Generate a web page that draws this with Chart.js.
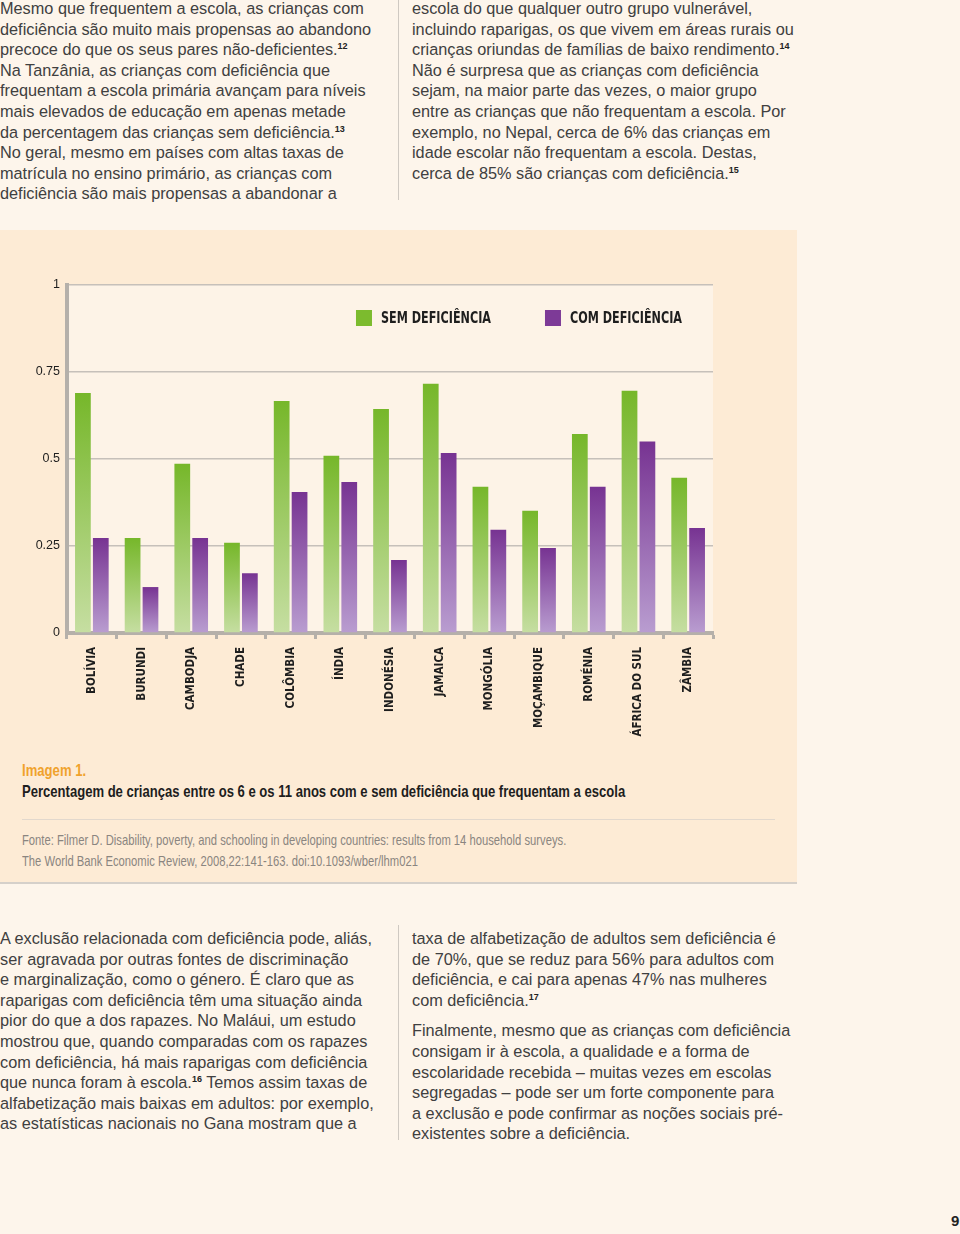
<!DOCTYPE html>
<html lang="pt">
<head>
<meta charset="utf-8">
<script src="https://cdn.jsdelivr.net/npm/chart.js@4.4.1/dist/chart.umd.min.js"></script>
<style>
  body { margin: 0; width: 960px; height: 1234px; background: #fdf5eb; position: relative; overflow: hidden;
         font-family: "Liberation Sans", Arial, Helvetica, sans-serif; color: #404040; }
  .col { position: absolute; font-size: 16.3px; line-height: 20.6px; white-space: nowrap; }
  .col sup { font-size: 9px; font-weight: bold; vertical-align: 6px; line-height: 0; color: #222; }
  .div { position: absolute; left: 398px; width: 1px; background: #cfc9c2; }
  #painel { position: absolute; left: 0; top: 230px; width: 797px; height: 652px; background: #fdebd5;
            border-bottom: 2px solid #d5d0ca; }
  #grafico { position: absolute; left: 0; top: 0; width: 797px; height: 530px; }
  .cond { white-space: nowrap; transform-origin: 0 50%; }
  #imagem { position: absolute; left: 22px; top: 531px; font-size: 17px; font-weight: bold; color: #f0a22c; }
  #titulo { position: absolute; left: 22px; top: 552px; font-size: 17px; font-weight: bold; color: #1e1e1e; }
  #regra { position: absolute; left: 22px; top: 589px; width: 753px; height: 1px; background: #e2d8cd; }
  #fonte { position: absolute; left: 22px; top: 599px; font-size: 15px; line-height: 21px; color: #8a8580; }
  #pagina { position: absolute; left: 951px; top: 1212px; font-size: 15px; font-weight: bold; color: #222; }
</style>
</head>
<body>
<div class="col" style="left:0; top:-2px;">
Mesmo que frequentem a escola, as crianças com<br>
deficiência são muito mais propensas ao abandono<br>
precoce do que os seus pares não-deficientes.<sup>12</sup><br>
Na Tanzânia, as crianças com deficiência que<br>
frequentam a escola primária avançam para níveis<br>
mais elevados de educação em apenas metade<br>
da percentagem das crianças sem deficiência.<sup>13</sup><br>
No geral, mesmo em países com altas taxas de<br>
matrícula no ensino primário, as crianças com<br>
deficiência são mais propensas a abandonar a
</div>
<div class="div" style="top:0; height:200px;"></div>
<div class="col" style="left:412px; top:-2px;">
escola do que qualquer outro grupo vulnerável,<br>
incluindo raparigas, os que vivem em áreas rurais ou<br>
crianças oriundas de famílias de baixo rendimento.<sup>14</sup><br>
Não é surpresa que as crianças com deficiência<br>
sejam, na maior parte das vezes, o maior grupo<br>
entre as crianças que não frequentam a escola. Por<br>
exemplo, no Nepal, cerca de 6% das crianças em<br>
idade escolar não frequentam a escola. Destas,<br>
cerca de 85% são crianças com deficiência.<sup>15</sup>
</div>

<div id="painel">
  <div id="grafico"><canvas id="myChart" width="797" height="530"></canvas></div>
  <div id="imagem" class="cond" data-w="64">Imagem 1.</div>
  <div id="titulo" class="cond" data-w="603">Percentagem de crianças entre os 6 e os 11 anos com e sem deficiência que frequentam a escola</div>
  <div id="regra"></div>
  <div id="fonte" class="cond" data-w="544">Fonte: Filmer D. Disability, poverty, and schooling in developing countries: results from 14 household surveys.<br>
  The World Bank Economic Review, 2008,22:141-163. doi:10.1093/wber/lhm021</div>
</div>

<div class="col" style="left:0; top:928px;">
A exclusão relacionada com deficiência pode, aliás,<br>
ser agravada por outras fontes de discriminação<br>
e marginalização, como o género. É claro que as<br>
raparigas com deficiência têm uma situação ainda<br>
pior do que a dos rapazes. No Maláui, um estudo<br>
mostrou que, quando comparadas com os rapazes<br>
com deficiência, há mais raparigas com deficiência<br>
que nunca foram à escola.<sup>16</sup> Temos assim taxas de<br>
alfabetização mais baixas em adultos: por exemplo,<br>
as estatísticas nacionais no Gana mostram que a
</div>
<div class="div" style="top:925px; height:215px;"></div>
<div class="col" style="left:412px; top:928px;">
taxa de alfabetização de adultos sem deficiência é<br>
de 70%, que se reduz para 56% para adultos com<br>
deficiência, e cai para apenas 47% nas mulheres<br>
com deficiência.<sup>17</sup>
<div style="height:10px;"></div>
Finalmente, mesmo que as crianças com deficiência<br>
consigam ir à escola, a qualidade e a forma de<br>
escolaridade recebida – muitas vezes em escolas<br>
segregadas – pode ser um forte componente para<br>
a exclusão e pode confirmar as noções sociais pré-<br>
existentes sobre a deficiência.
</div>
<div id="pagina" class="cond" data-w="8">9</div>

<script>
const paises = ["BOLÍVIA", "BURUNDI", "CAMBODJA", "CHADE", "COLÔMBIA", "ÍNDIA", "INDONÉSIA",
  "JAMAICA", "MONGÓLIA", "MOÇAMBIQUE", "ROMÉNIA", "ÁFRICA DO SUL", "ZÂMBIA"];
const semDeficiencia = [0.69, 0.273, 0.486, 0.259, 0.667, 0.509, 0.644, 0.716, 0.42, 0.351, 0.572, 0.696, 0.446];
const comDeficiencia = [0.273, 0.132, 0.273, 0.172, 0.405, 0.434, 0.21, 0.517, 0.297, 0.244, 0.42, 0.55, 0.302];
const ticksY = [0, 0.25, 0.5, 0.75, 1];

const fonteCond = '"DejaVu Sans Condensed", "Liberation Sans", sans-serif';
const corEixo = "#b5b0aa";

// textos condensados: estreita cada bloco até à largura do original
document.querySelectorAll("[data-w]").forEach((el) => {
  const escala = Number(el.dataset.w) / el.offsetWidth;
  el.style.transform = `scaleX(${escala})`;
});

// degradê por barra: escuro no topo, claro na base
function degrade(topo, base) {
  return (context) => {
    const chart = context.chart;
    const y = chart.scales.y;
    if (context.type !== "data" || !y || !chart.chartArea) return topo;
    const yTopo = y.getPixelForValue(context.parsed.y);
    const yBase = y.getPixelForValue(0);
    if (!isFinite(yTopo) || yTopo === yBase) return topo;
    const g = chart.ctx.createLinearGradient(0, yTopo, 0, yBase);
    g.addColorStop(0, topo);
    g.addColorStop(1, base);
    return g;
  };
}

const fundoPlot = {
  id: "fundoPlot",
  beforeDraw(chart) {
    const { ctx, chartArea } = chart;
    ctx.save();
    ctx.fillStyle = "#fdf3e7";
    ctx.fillRect(chartArea.left, chartArea.top, chartArea.right - chartArea.left, chartArea.bottom - chartArea.top);
    ctx.restore();
  }
};

// legenda dentro da área do gráfico, alinhada à direita
const legenda = {
  id: "legenda",
  afterDraw(chart) {
    const { ctx, chartArea } = chart;
    const estreito = 0.83;
    ctx.save();
    ctx.font = "bold 15px " + fonteCond;
    ctx.textBaseline = "middle";
    const y = chartArea.top + 33;
    let x = chartArea.right - 31;
    chart.data.datasets.slice().reverse().forEach((ds) => {
      const w = ctx.measureText(ds.label).width * estreito;
      x -= w;
      ctx.save();
      ctx.translate(x, y + 1);
      ctx.scale(estreito, 1);
      ctx.fillStyle = "#1e1e1e";
      ctx.fillText(ds.label, 0, 0);
      ctx.restore();
      x -= 9 + 16;
      ctx.fillStyle = ds.corLegenda;
      ctx.fillRect(x, y - 8, 16, 16);
      x -= 54;
    });
    ctx.restore();
  }
};

const ctx = document.getElementById("myChart").getContext("2d");
new Chart(ctx, {
  type: "bar",
  data: {
    labels: paises,
    datasets: [
      {
        label: "SEM DEFICIÊNCIA",
        data: semDeficiencia,
        backgroundColor: degrade("#76b72a", "#c6dea2"),
        corLegenda: "#7cbb2e"
      },
      {
        label: "COM DEFICIÊNCIA",
        data: comDeficiencia,
        backgroundColor: degrade("#773392", "#b99dd0"),
        corLegenda: "#7d3a97"
      }
    ]
  },
  options: {
    responsive: false,
    animation: false,
    categoryPercentage: 0.72,
    barPercentage: 0.88,
    layout: { padding: { top: 55, right: 84, left: 0, bottom: 0 } },
    plugins: {
      legend: { display: false },
      tooltip: { enabled: false }
    },
    scales: {
      x: {
        grid: {
          offset: true,
          drawOnChartArea: false,
          drawTicks: true,
          tickLength: 6,
          tickWidth: 3,
          tickColor: corEixo
        },
        border: { display: true, color: corEixo, width: 4 },
        ticks: {
          minRotation: 90,
          maxRotation: 90,
          autoSkip: false,
          padding: 8,
          color: "#1e1e1e",
          font: { family: fonteCond, size: 11.5, weight: "bold" }
        },
        afterFit(scale) { scale.height = 127; }
      },
      y: {
        min: 0,
        max: 1,
        afterBuildTicks(scale) { scale.ticks = ticksY.map((v) => ({ value: v })); },
        grid: { color: "#c6c0ba", lineWidth: 1.5, drawTicks: false },
        border: { display: true, color: corEixo, width: 4 },
        ticks: {
          padding: 7,
          color: "#1e1e1e",
          font: { family: '"Liberation Sans", Arial, sans-serif', size: 12.5 },
          callback: (v) => String(v)
        },
        afterFit(scale) { scale.width = 67; }
      }
    }
  },
  plugins: [fundoPlot, legenda]
});
</script>
</body>
</html>
